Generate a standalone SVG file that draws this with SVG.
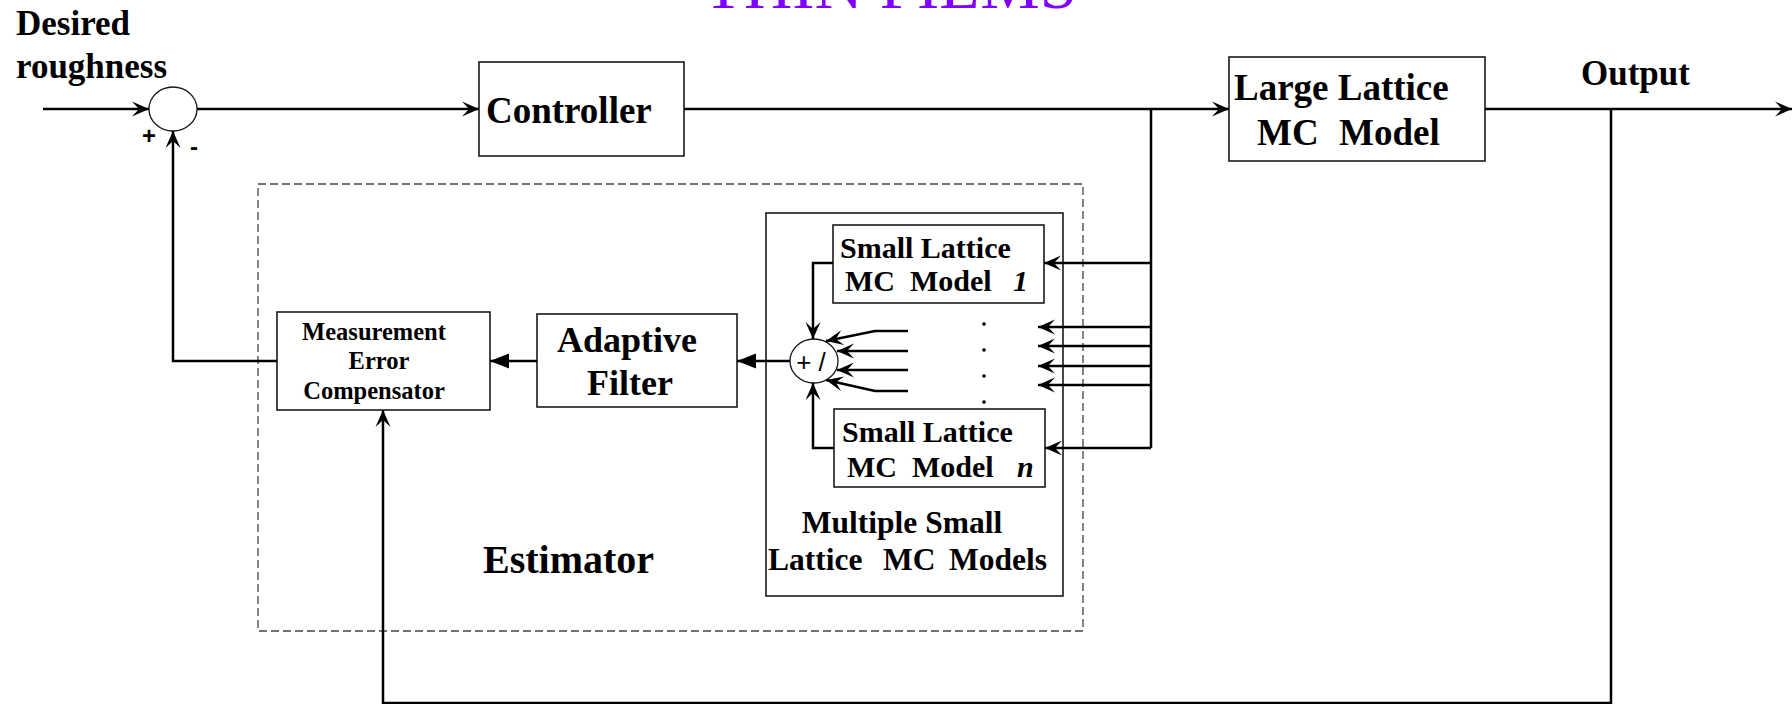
<svg xmlns="http://www.w3.org/2000/svg" width="1792" height="704" viewBox="0 0 1792 704">
<style>
  .box { fill: #fff; stroke: #1a1a1a; stroke-width: 1.6; }
  .t { font-family: "Liberation Serif", "Times New Roman", serif; font-weight: bold; fill: #000; }
  .ln { fill: none; stroke: #000; stroke-width: 2.5; }
  .sgn { font-family: "Liberation Sans", Arial, sans-serif; font-weight: bold; fill: #000; }
</style>
<defs>
  <marker id="open" markerUnits="userSpaceOnUse" viewBox="-20 -10 22 20" markerWidth="22" markerHeight="20" refX="0" refY="0" orient="auto" overflow="visible">
    <path d="M 0 0 L -17 -7.5 L -10 0 L -17 7.5 Z" fill="#000"/>
  </marker>
  <marker id="solid" markerUnits="userSpaceOnUse" viewBox="-20 -10 22 20" markerWidth="22" markerHeight="20" refX="0" refY="0" orient="auto" overflow="visible">
    <path d="M 0 0 L -19 -7.5 L -19 7.5 Z" fill="#000"/>
  </marker>
</defs>
<rect width="1792" height="704" fill="#fff"/>

<text x="703" y="8" font-family="Liberation Serif, 'Times New Roman', serif" font-size="67" fill="#8000ff">THIN FILMS</text>

<g id="estimator">
  <rect x="258" y="184" width="825" height="447" fill="none" stroke="#444" stroke-width="1.3" stroke-dasharray="8 4"/>
  <text class="t" x="483" y="573" font-size="40">Estimator</text>
</g>

<g id="labels">
  <text class="t" x="16" y="35" font-size="35">Desired</text>
  <text class="t" x="16" y="78" font-size="35">roughness</text>
  <text class="t" x="1581" y="85" font-size="35">Output</text>
</g>

<g id="sum1">
  <ellipse cx="173" cy="109" rx="24" ry="22" fill="#fff" stroke="#1a1a1a" stroke-width="1.3"/>
  <text class="sgn" x="149" y="144" font-size="24" text-anchor="middle">+</text>
  <text class="sgn" x="194" y="155" font-size="24" text-anchor="middle">-</text>
</g>

<g id="controller">
  <rect class="box" x="479" y="62" width="205" height="94"/>
  <text class="t" x="486" y="123" font-size="37">Controller</text>
</g>

<g id="large">
  <rect class="box" x="1229" y="57" width="256" height="104" stroke="#333"/>
  <text class="t" x="1234" y="100" font-size="37">Large Lattice</text>
  <text class="t" y="145" font-size="37"><tspan x="1257">MC</tspan><tspan x="1339">Model</tspan></text>
</g>

<g id="mec">
  <rect class="box" x="277" y="312" width="213" height="98"/>
  <text class="t" x="374" y="340" font-size="24.5" text-anchor="middle">Measurement</text>
  <text class="t" x="379" y="369" font-size="24.5" text-anchor="middle">Error</text>
  <text class="t" x="374" y="399" font-size="24.5" text-anchor="middle">Compensator</text>
</g>

<g id="adaptive">
  <rect class="box" x="537" y="314" width="200" height="93"/>
  <text class="t" x="627" y="352" font-size="36" text-anchor="middle">Adaptive</text>
  <text class="t" x="630" y="395" font-size="36" text-anchor="middle">Filter</text>
</g>

<g id="multiple">
  <rect class="box" x="766" y="213" width="297" height="383"/>
  <text class="t" x="902" y="533" font-size="31.5" text-anchor="middle">Multiple Small</text>
  <text class="t" y="570" font-size="31.5"><tspan x="768">Lattice</tspan><tspan x="883">MC</tspan><tspan x="949">Models</tspan></text>
</g>

<g id="small1">
  <rect class="box" x="833" y="225" width="211" height="78"/>
  <text class="t" x="840" y="258" font-size="30">Small Lattice</text>
  <text class="t" y="291" font-size="30"><tspan x="845">MC</tspan><tspan x="910">Model</tspan><tspan x="1013" font-style="italic">1</tspan></text>
</g>

<g id="smalln">
  <rect class="box" x="834" y="409" width="211" height="78"/>
  <text class="t" x="842" y="442" font-size="30">Small Lattice</text>
  <text class="t" y="477" font-size="30"><tspan x="847">MC</tspan><tspan x="912">Model</tspan><tspan x="1017" font-style="italic">n</tspan></text>
</g>

<g id="sum2">
  <ellipse cx="814" cy="361" rx="24" ry="22" fill="#fff" stroke="#1a1a1a" stroke-width="1.3"/>
  <text x="811" y="371" font-family="Liberation Sans, Arial, sans-serif" font-size="26" text-anchor="middle">+ /</text>
</g>

<g id="dots" fill="#000">
  <circle cx="984" cy="324" r="1.8"/>
  <circle cx="984" cy="350" r="1.8"/>
  <circle cx="984" cy="376" r="1.8"/>
  <circle cx="984" cy="402" r="1.8"/>
</g>

<g id="connectors" class="ln">
  <path class="ln" d="M 43 109 H 149" marker-end="url(#open)"/>
  <path class="ln" d="M 197 109 H 479" marker-end="url(#open)"/>
  <path class="ln" d="M 684 109 H 1229" marker-end="url(#open)"/>
  <path class="ln" d="M 1485 109 H 1792" marker-end="url(#open)"/>
  <path class="ln" d="M 1151 109 V 448"/>
  <path class="ln" d="M 1151 263 H 1044" marker-end="url(#open)"/>
  <path class="ln" d="M 1151 327 H 1038" marker-end="url(#open)"/>
  <path class="ln" d="M 1151 346 H 1038" marker-end="url(#open)"/>
  <path class="ln" d="M 1151 366 H 1038" marker-end="url(#open)"/>
  <path class="ln" d="M 1151 385 H 1038" marker-end="url(#open)"/>
  <path class="ln" d="M 1151 448 H 1045" marker-end="url(#open)"/>
  <path class="ln" d="M 1611 109 V 703 H 383 V 410" marker-end="url(#open)"/>
  <path class="ln" d="M 277 361 H 173 V 131" marker-end="url(#open)"/>
  <path class="ln" d="M 537 361 H 490" marker-end="url(#solid)"/>
  <path class="ln" d="M 790 361 H 737" marker-end="url(#solid)"/>
  <path class="ln" d="M 833 263 H 813 V 339" marker-end="url(#open)"/>
  <path class="ln" d="M 834 448 H 813 V 383" marker-end="url(#open)"/>
  <path class="ln" d="M 908 331 H 875 L 826 341" marker-end="url(#open)"/>
  <path class="ln" d="M 908 351 H 837" marker-end="url(#open)"/>
  <path class="ln" d="M 908 370 H 837" marker-end="url(#open)"/>
  <path class="ln" d="M 908 391 H 875 L 826 380" marker-end="url(#open)"/>
</g>
</svg>
